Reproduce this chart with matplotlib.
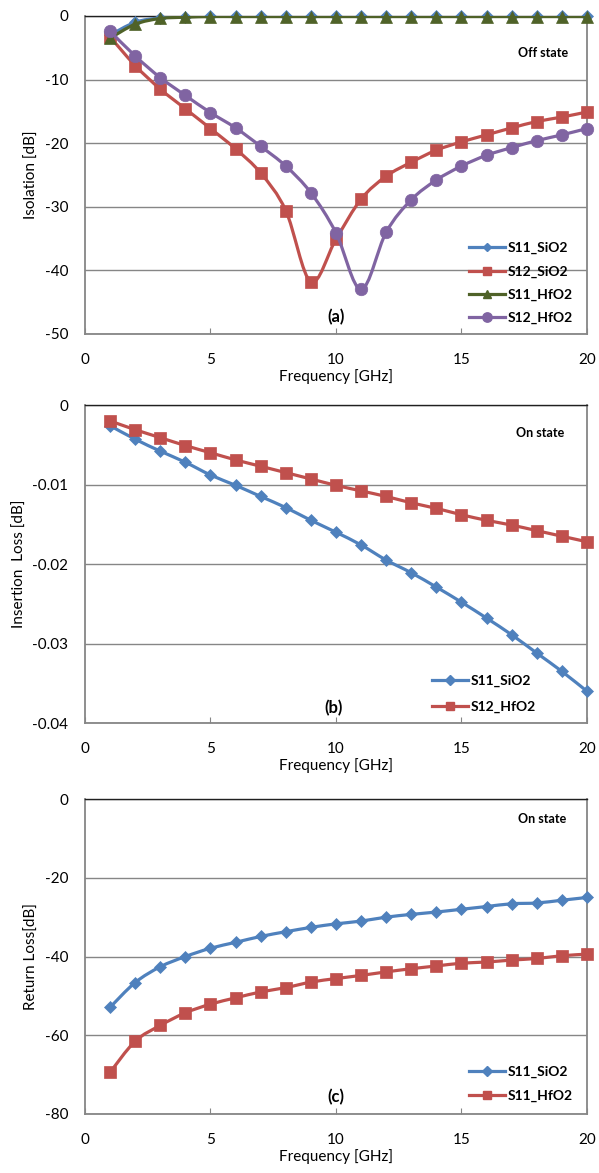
import numpy as np
import matplotlib
matplotlib.use("Agg")
import matplotlib.pyplot as plt
from matplotlib.path import Path
from matplotlib.patches import PathPatch
from matplotlib.lines import Line2D

plt.rcParams['font.family'] = ['Lato', 'DejaVu Sans']

freq = list(range(1, 21))

# Panel (a) - Off state isolation [dB]
a_s11_sio2 = [-3.0, -1.0, -0.3, -0.1, 0.0, 0.0, 0.0, 0.0, 0.0, 0.0,
              0.0, 0.0, 0.0, 0.0, 0.0, 0.0, 0.0, 0.0, 0.0, 0.0]
a_s12_sio2 = [-3.3, -7.8, -11.5, -14.6, -17.7, -20.9, -24.7, -30.6, -41.8, -35.1,
              -28.8, -25.2, -23.0, -21.1, -19.8, -18.7, -17.6, -16.6, -15.9, -15.1]
a_s11_hfo2 = [-3.5, -1.3, -0.4, -0.2, -0.1, -0.1, -0.1, -0.1, -0.1, -0.1,
              -0.1, -0.1, -0.1, -0.1, -0.1, -0.1, -0.1, -0.1, -0.1, -0.1]
a_s12_hfo2 = [-2.4, -6.3, -9.7, -12.5, -15.2, -17.6, -20.5, -23.6, -27.8, -34.1,
              -43.0, -34.0, -28.9, -25.8, -23.6, -21.9, -20.7, -19.6, -18.7, -17.7]

# Panel (b) - On state insertion loss [dB]
b_s11_sio2 = [-0.0026, -0.0043, -0.0058, -0.0072, -0.0088, -0.0101, -0.0115, -0.0129, -0.0145, -0.0160,
              -0.0176, -0.0195, -0.0211, -0.0229, -0.0248, -0.0268, -0.0289, -0.0312, -0.0335, -0.0360]
b_s12_hfo2 = [-0.0020, -0.0031, -0.0041, -0.0051, -0.0060, -0.0069, -0.0077, -0.0085, -0.0093, -0.0101,
              -0.0108, -0.0115, -0.0123, -0.0130, -0.0138, -0.0145, -0.0151, -0.0158, -0.0165, -0.0172]

# Panel (c) - On state return loss [dB]
c_s11_sio2 = [-52.9, -46.6, -42.6, -40.0, -37.9, -36.4, -34.9, -33.7, -32.6, -31.7,
              -31.0, -30.0, -29.3, -28.7, -28.0, -27.3, -26.6, -26.4, -25.7, -25.0]
c_s11_hfo2 = [-69.4, -61.5, -57.5, -54.3, -52.1, -50.5, -49.0, -47.9, -46.5, -45.6,
              -44.8, -43.9, -43.1, -42.4, -41.7, -41.4, -40.9, -40.5, -39.8, -39.4]

xticks = [0, 5, 10, 15, 20]
a_yticks = [0, -10, -20, -30, -40, -50]
b_yticks = [0, -0.01, -0.02, -0.03, -0.04]
c_yticks = [0, -20, -40, -60, -80]

BLUE = '#4F81BD'
RED = '#C0504D'
GREEN = '#4F6228'
PURPLE = '#8064A2'
GRID = '#868686'


def smooth_path(x, y):
    pts = np.column_stack([np.asarray(x, float), np.asarray(y, float)])
    n = len(pts)
    verts = [pts[0]]
    codes = [Path.MOVETO]
    for i in range(n - 1):
        p0 = pts[i - 1] if i > 0 else pts[i]
        p1 = pts[i]
        p2 = pts[i + 1]
        p3 = pts[i + 2] if i + 2 < n else pts[i + 1]
        c1 = p1 + (p2 - p0) / 6.0
        c2 = p2 - (p3 - p1) / 6.0
        verts += [c1, c2, p2]
        codes += [Path.CURVE4] * 3
    return Path(verts, codes)


def series(ax, x, y, color, marker, ms, label, z):
    patch = PathPatch(smooth_path(x, y), facecolor='none', edgecolor=color,
                      lw=2.3, zorder=z, capstyle='round', joinstyle='round')
    ax.add_patch(patch)
    ax.plot(x, y, linestyle='none', marker=marker, ms=ms, color=color,
            markeredgecolor=color, markeredgewidth=0.5, zorder=z + 0.1,
            clip_on=False)
    return Line2D([], [], color=color, lw=2.3, marker=marker, ms=ms * 0.75,
                  markeredgecolor=color, label=label)


def style(ax, ylim, yticks, ylabel):
    ax.set_xlim(0, 20)
    ax.set_ylim(*ylim)
    ax.set_xticks(xticks)
    ax.set_yticks(yticks)
    ax.set_yticklabels([f'{v:g}' for v in yticks])
    ax.grid(axis='y', color=GRID, lw=1)
    ax.set_axisbelow(True)
    for s in ax.spines.values():
        s.set_color(GRID)
        s.set_linewidth(1.3)
    ax.spines['top'].set_color('#202020')
    ax.spines['top'].set_linewidth(1.0)
    ax.tick_params(axis='x', direction='in', length=4, color=GRID, labelsize=11, pad=14)
    ax.tick_params(axis='y', direction='in', length=0, labelsize=11, pad=12)
    ax.set_xlabel('Frequency [GHz]', fontsize=11, labelpad=1)
    ax.set_ylabel(ylabel, fontsize=11, labelpad=4)


def legend(ax, handles, x, ytop, spacing):
    ax.legend(handles=handles, loc='upper left', bbox_to_anchor=(x, ytop),
              frameon=False, prop={'weight': 'bold', 'size': 10},
              handlelength=2.6, handletextpad=0.2, labelspacing=spacing,
              borderpad=0.0, borderaxespad=0.0)


fig = plt.figure(figsize=(5.99, 11.73), dpi=100)
L, W = 0.1419, 0.838
ax_a = fig.add_axes([L, 0.7153, W, 0.2711])
ax_b = fig.add_axes([L, 0.3836, W, 0.2711])
ax_c = fig.add_axes([L, 0.0503, W, 0.2685])

# (a)
h = []
h.append(series(ax_a, freq, a_s11_sio2, BLUE, 'D', 6, 'S11_SiO2', 3))
h.append(series(ax_a, freq, a_s12_sio2, RED, 's', 8, 'S12_SiO2', 4))
h.append(series(ax_a, freq, a_s11_hfo2, GREEN, '^', 8, 'S11_HfO2', 5))
h.append(series(ax_a, freq, a_s12_hfo2, PURPLE, 'o', 9, 'S12_HfO2', 6))
style(ax_a, (-50, 0), a_yticks, 'Isolation [dB]')
ax_a.text(0.912, 0.884, 'Off state', transform=ax_a.transAxes, fontsize=9,
          fontweight='bold', ha='center', va='center')
ax_a.text(0.5, 0.053, '(a)', transform=ax_a.transAxes, fontsize=12,
          fontweight='bold', ha='center', va='center')
legend(ax_a, h, 0.765, 0.289, 0.8)

# (b)
h = []
h.append(series(ax_b, freq, b_s11_sio2, BLUE, 'D', 6.5, 'S11_SiO2', 3))
h.append(series(ax_b, freq, b_s12_hfo2, RED, 's', 8.5, 'S12_HfO2', 4))
style(ax_b, (-0.04, 0), b_yticks, 'Insertion  Loss [dB]')
ax_b.text(0.906, 0.912, 'On state', transform=ax_b.transAxes, fontsize=9,
          fontweight='bold', ha='center', va='center')
ax_b.text(0.496, 0.047, '(b)', transform=ax_b.transAxes, fontsize=12,
          fontweight='bold', ha='center', va='center')
legend(ax_b, h, 0.691, 0.151, 0.98)

# (c)
h = []
h.append(series(ax_c, freq, c_s11_sio2, BLUE, 'D', 6.5, 'S11_SiO2', 3))
h.append(series(ax_c, freq, c_s11_hfo2, RED, 's', 8.5, 'S11_HfO2', 4))
style(ax_c, (-80, 0), c_yticks, 'Return Loss[dB]')
ax_c.text(0.91, 0.937, 'On state', transform=ax_c.transAxes, fontsize=9,
          fontweight='bold', ha='center', va='center')
ax_c.text(0.5, 0.054, '(c)', transform=ax_c.transAxes, fontsize=12,
          fontweight='bold', ha='center', va='center')
legend(ax_c, h, 0.765, 0.152, 0.83)

fig.savefig('out.png', dpi=100)
